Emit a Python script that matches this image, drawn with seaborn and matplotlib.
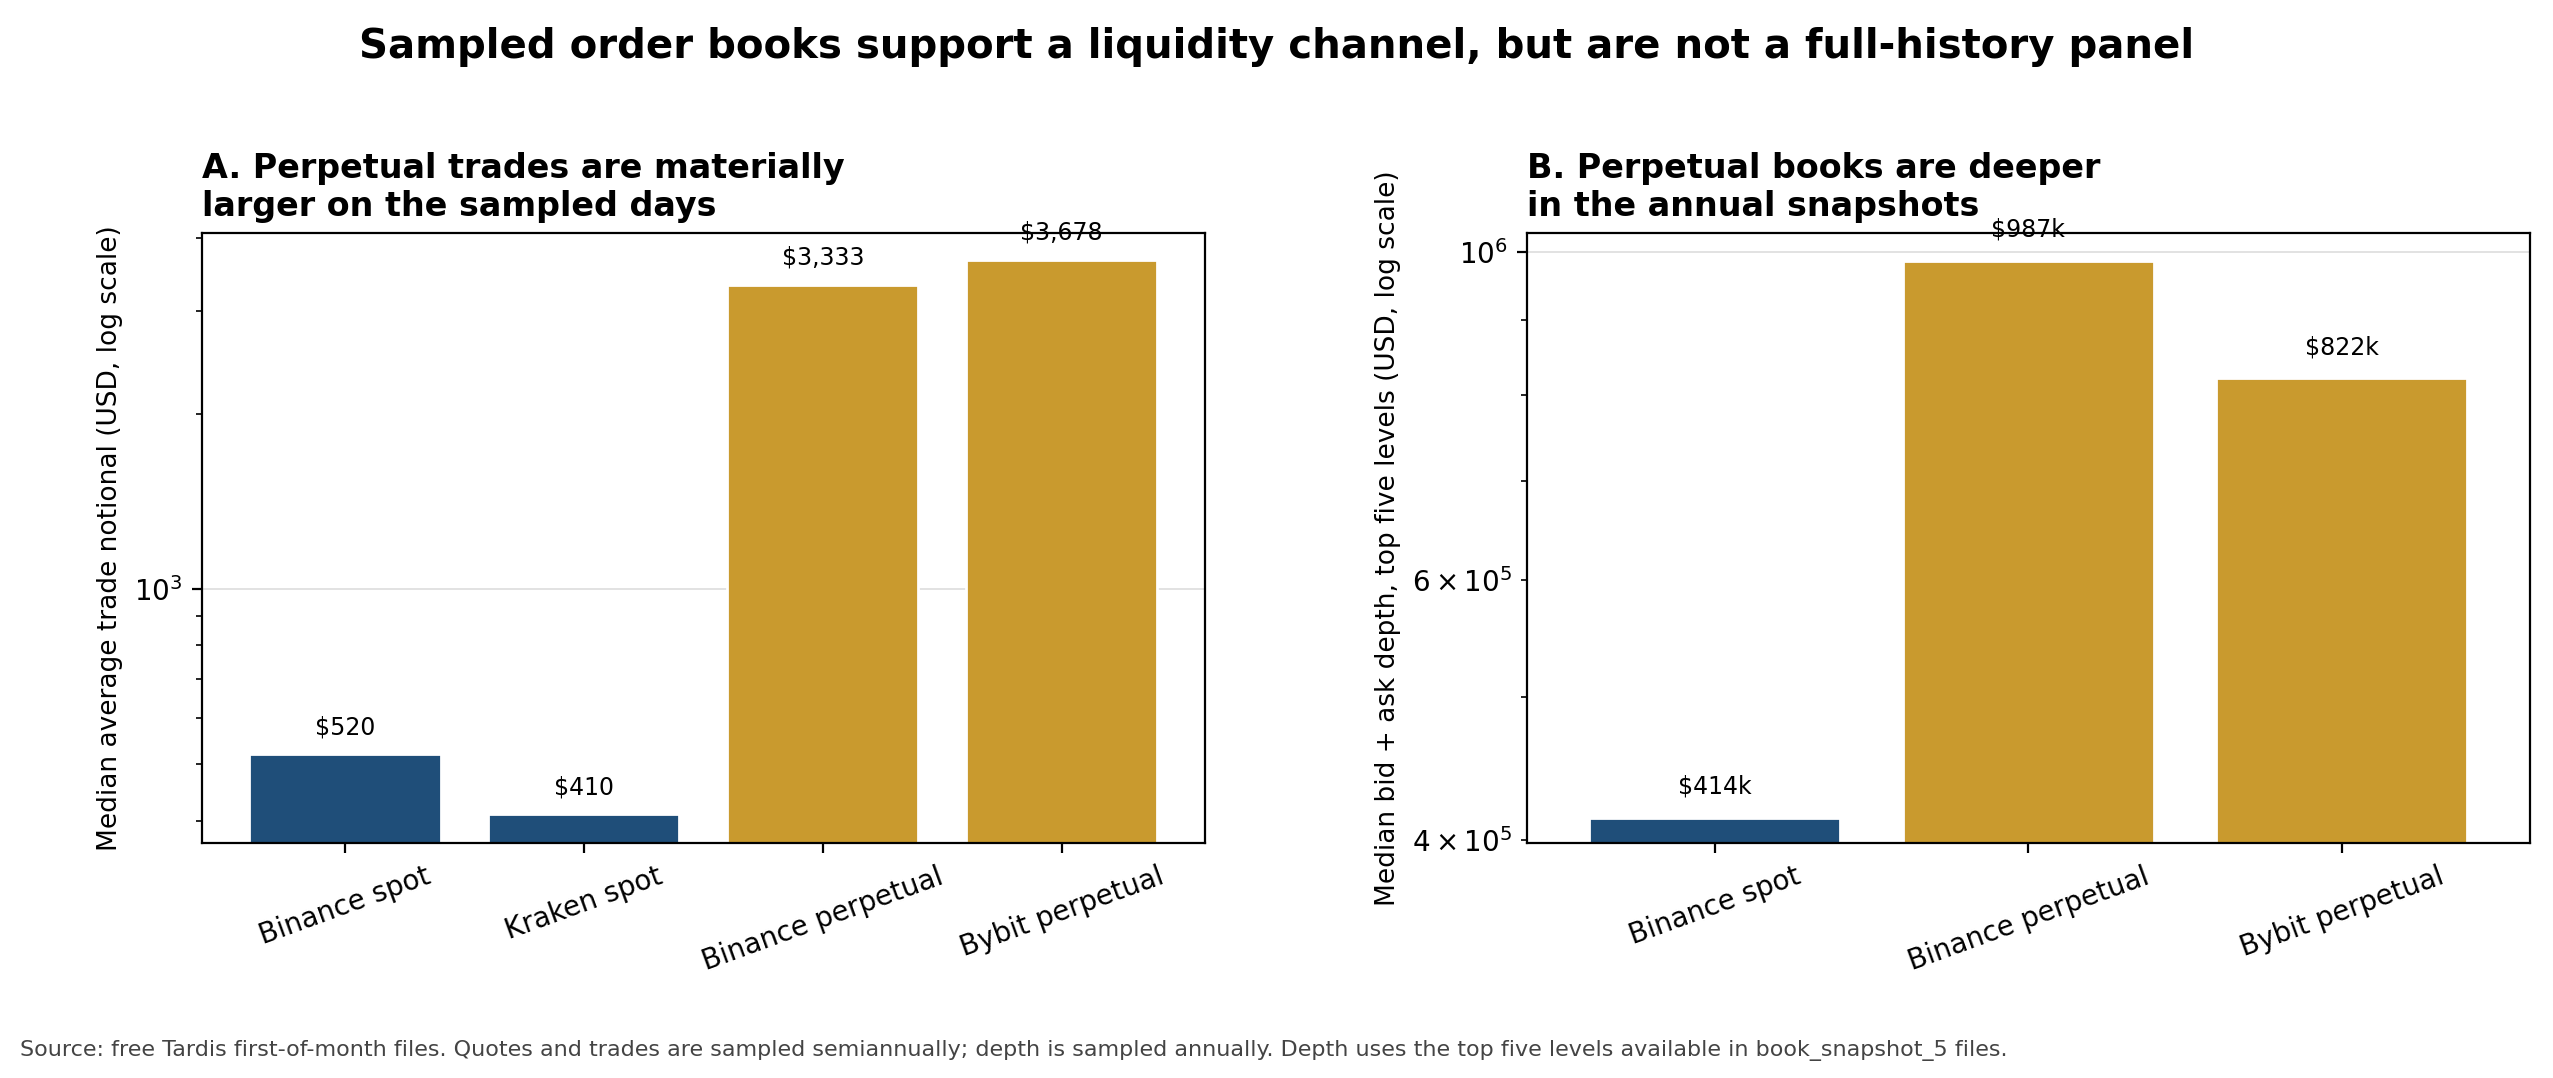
import matplotlib
matplotlib.use("Agg")
import matplotlib.pyplot as plt
import seaborn as sns
import pandas as pd

venues_a = ["Binance spot", "Kraken spot", "Binance perpetual", "Bybit perpetual"]
trade_a = [520, 410, 3333, 3678]
kind_a = ["spot", "spot", "perp", "perp"]
labels_a = ["$520", "$410", "$3,333", "$3,678"]

venues_b = ["Binance spot", "Binance perpetual", "Bybit perpetual"]
depth_b = [414000, 987000, 822000]
kind_b = ["spot", "perp", "perp"]
labels_b = ["$414k", "$987k", "$822k"]

palette = {"spot": "#1f4e79", "perp": "#c99a2e"}

sns.set_style("ticks")
plt.rcParams["font.family"] = ["DejaVu Sans"]
plt.rcParams.update({"text.color": "black", "axes.labelcolor": "black",
                     "xtick.color": "black", "ytick.color": "black",
                     "axes.edgecolor": "black"})

fig = plt.figure(figsize=(12.765, 5.39), dpi=200)
ax1 = fig.add_axes([0.079, 0.218, 0.393, 0.566])
ax2 = fig.add_axes([0.598, 0.218, 0.393, 0.566])

df_a = pd.DataFrame({"venue": venues_a, "value": trade_a, "kind": kind_a})
df_b = pd.DataFrame({"venue": venues_b, "value": depth_b, "kind": kind_b})

sns.barplot(data=df_a, x="venue", y="value", hue="kind", palette=palette,
            dodge=False, legend=False, ax=ax1, width=0.8, saturation=1)
ax1.set_yscale("log")
ax1.set_ylim(366, 4090)
ax1.set_xlim(-0.6, len(venues_a) - 0.4)
for i, (v, t) in enumerate(zip(trade_a, labels_a)):
    ax1.text(i, v * 1.06, t, ha="center", va="bottom", fontsize=8.5)
ax1.set_title("A. Perpetual trades are materially\nlarger on the sampled days",
              loc="left", fontsize=12, fontweight="bold")
ax1.set_ylabel("Median average trade notional (USD, log scale)", fontsize=9.5)

sns.barplot(data=df_b, x="venue", y="value", hue="kind", palette=palette,
            dodge=False, legend=False, ax=ax2, width=0.8, saturation=1)
ax2.set_yscale("log")
ax2.set_ylim(398000, 1031000)
ax2.set_xlim(-0.6, len(venues_b) - 0.4)
for i, (v, t) in enumerate(zip(depth_b, labels_b)):
    ax2.text(i, v * 1.03, t, ha="center", va="bottom", fontsize=8.5)
ax2.set_title("B. Perpetual books are deeper\nin the annual snapshots",
              loc="left", fontsize=12, fontweight="bold")
ax2.set_ylabel("Median bid + ask depth, top five levels (USD, log scale)", fontsize=9.5)

for ax in (ax1, ax2):
    ax.set_xlabel("")
    ax.grid(axis="y", which="major", color="#dddddd", linewidth=0.6)
    ax.set_axisbelow(True)
    ax.tick_params(axis="x", labelrotation=20, labelsize=10)
    ax.tick_params(axis="y", labelsize=10)
    for s in ax.spines.values():
        s.set_linewidth(0.8)

fig.suptitle("Sampled order books support a liquidity channel, but are not a full-history panel",
             fontsize=14.5, fontweight="bold", y=0.975)
fig.text(0.008, 0.02, "Source: free Tardis first-of-month files. Quotes and trades are sampled semiannually; "
         "depth is sampled annually. Depth uses the top five levels available in book_snapshot_5 files.",
         fontsize=8, color="#444444")

fig.savefig("out.png", dpi=200)
